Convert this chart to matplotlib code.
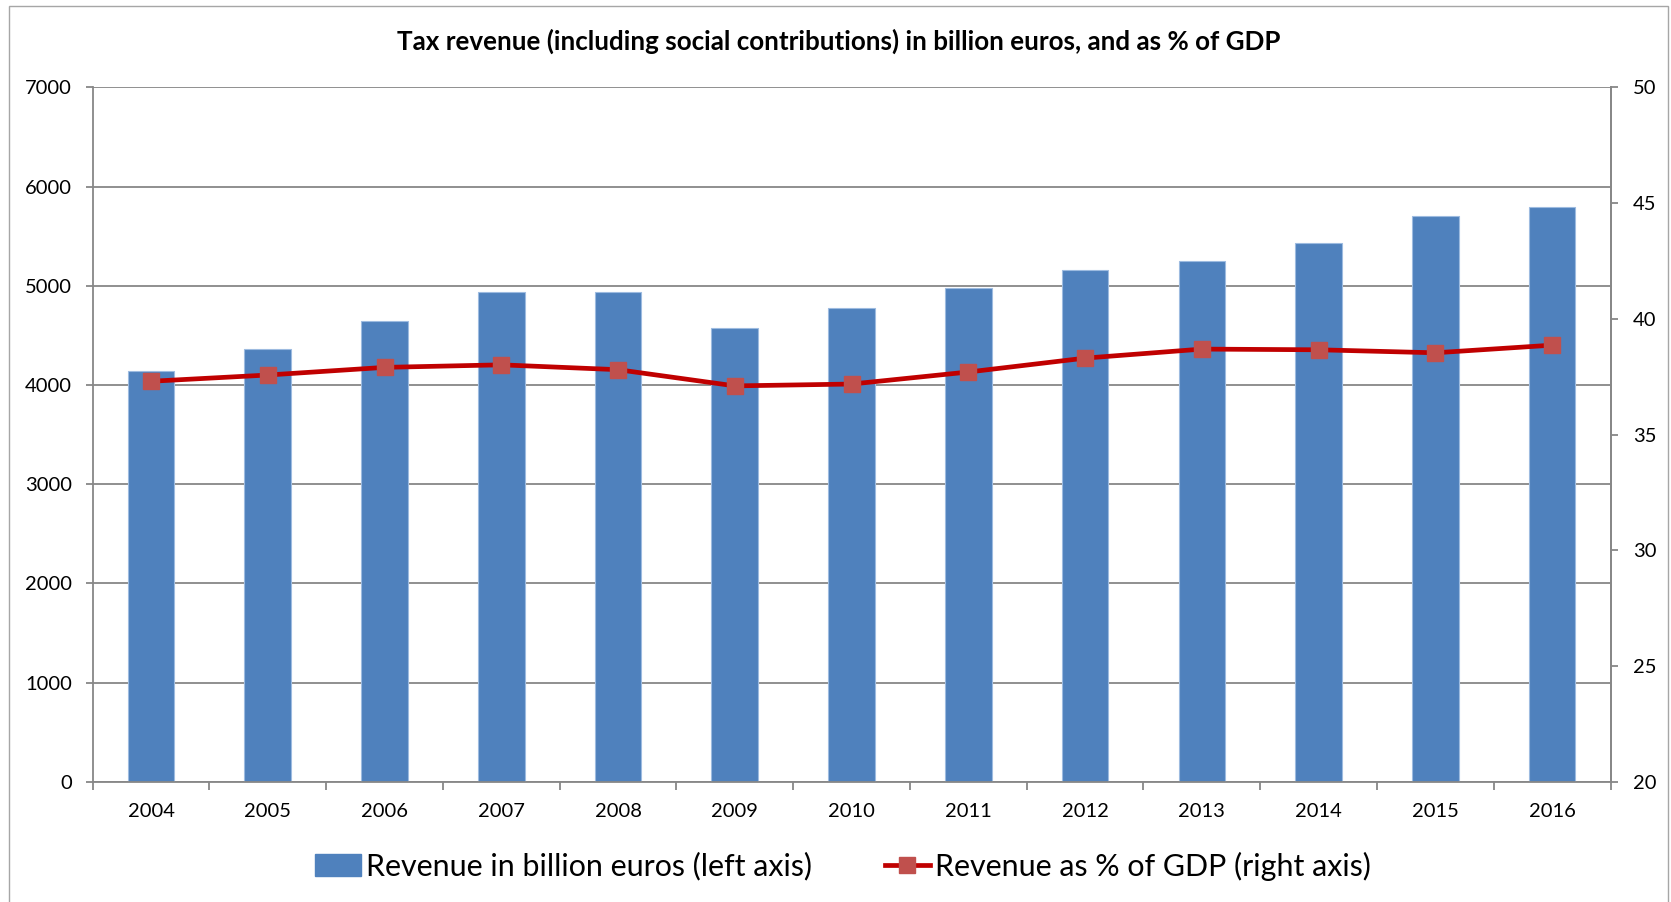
import matplotlib
matplotlib.use("Agg")
import matplotlib.pyplot as plt
from matplotlib.patches import Rectangle, Patch
from matplotlib.lines import Line2D
import numpy as np

years = ["2004", "2005", "2006", "2007", "2008", "2009", "2010",
         "2011", "2012", "2013", "2014", "2015", "2016"]
revenue = [4140, 4359, 4647, 4940, 4937, 4570, 4772, 4974, 5155, 5252, 5427, 5700, 5790]
pct_gdp = [37.3, 37.57, 37.9, 38.01, 37.8, 37.1, 37.18, 37.7, 38.3, 38.69, 38.66, 38.53, 38.86]
left_ticks = [0, 1000, 2000, 3000, 4000, 5000, 6000, 7000]
right_ticks = [20, 25, 30, 35, 40, 45, 50]

title = "Tax revenue (including social contributions) in billion euros, and as % of GDP"
bar_label = "Revenue in billion euros (left axis)"
line_label = "Revenue as % of GDP (right axis)"

FONT = "Lato"
plt.rcParams["font.family"] = [FONT, "DejaVu Sans"]

W, H = 1671, 902
fig = plt.figure(figsize=(W / 100, H / 100), dpi=100)
fig.patch.set_facecolor("white")

# outer chart border
fig.add_artist(Rectangle((9 / W, -0.05), (1668 - 9) / W, (H - 6) / H + 0.05,
                         transform=fig.transFigure, fill=False,
                         edgecolor="#A6A6A6", linewidth=1.0))

ax = fig.add_axes([92.7 / W, (H - 781.7) / H, (1610.5 - 92.7) / W, (781.7 - 87.3) / H])
grid_c = "#878787"

x = np.arange(len(years))
ax.bar(x, revenue, width=0.4, color="#4F81BD", edgecolor="#9DBBE0", linewidth=0.8, zorder=2)
ax.set_xlim(-0.5, len(years) - 0.5)
ax.set_ylim(0, 7000)
ax.set_yticks(left_ticks)
ax.set_yticklabels([str(t) for t in left_ticks])
ax.yaxis.grid(True, color=grid_c, linewidth=1.3, zorder=0)
ax.set_axisbelow(True)

ax.set_xticks(x)
ax.set_xticklabels(years)
ax.set_xticks(np.arange(len(years) + 1) - 0.5, minor=True)
ax.tick_params(axis="x", which="major", length=0, pad=15, labelsize=14.5)
ax.tick_params(axis="x", which="minor", length=6, width=1.3, color=grid_c, direction="out")
ax.tick_params(axis="y", length=5, width=1.3, color=grid_c, direction="out", pad=10, labelsize=14.5)

ax.spines["top"].set_visible(False)
for s in ["left", "bottom", "right"]:
    ax.spines[s].set_color(grid_c)
    ax.spines[s].set_linewidth(1.3)

ax2 = ax.twinx()
ax2.set_ylim(20, 50)
ax2.set_yticks(right_ticks)
ax2.set_yticklabels([str(t) for t in right_ticks])
ax2.tick_params(axis="y", length=5, width=1.3, color=grid_c, direction="out", pad=11, labelsize=14.5)
for s in ["top", "left", "bottom"]:
    ax2.spines[s].set_visible(False)
ax2.spines["right"].set_color(grid_c)
ax2.spines["right"].set_linewidth(1.3)

ax2.plot(x, pct_gdp, color="#C00000", linewidth=3.4, marker="s", markersize=11,
         markerfacecolor="#C0504D", markeredgecolor="#C0504D", zorder=3)

fig.text(839 / W, 1 - 41 / H, title, ha="center", va="center",
         fontsize=18.7, fontweight="bold", color="black")

handles = [Patch(facecolor="#4F81BD", edgecolor="#4F81BD"),
           Line2D([0], [0], color="#C00000", linewidth=3.4, marker="s", markersize=11,
                  markerfacecolor="#C0504D", markeredgecolor="#C0504D")]
fig.legend(handles, [bar_label, line_label], loc="center", bbox_to_anchor=(843 / W, 1 - 866 / H),
           ncol=2, frameon=False, fontsize=21.9, handlelength=1.5, handleheight=0.72,
           handletextpad=0.15, columnspacing=2.4, borderaxespad=0)

fig.savefig("out.png", dpi=100, facecolor="white")
